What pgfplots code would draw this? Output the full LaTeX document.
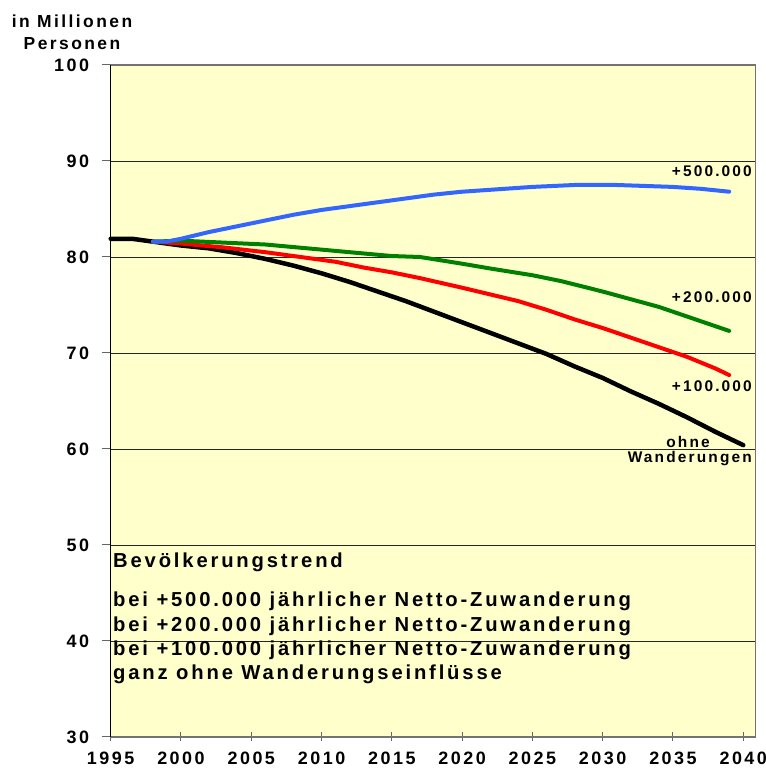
\documentclass[border=0pt]{standalone}
\usepackage{fontspec}
\setmainfont{Liberation Sans}[LetterSpace=14]
\usepackage{pgfplots}
\pgfplotsset{compat=1.18}
\definecolor{bgyellow}{HTML}{FFFFCC}
\definecolor{cblue}{HTML}{3366FF}
\definecolor{cgreen}{HTML}{008000}
\definecolor{cred}{HTML}{FF0000}
\begin{document}
\begin{tikzpicture}[x=1bp,y=1bp]
\useasboundingbox (0,0) rectangle (766,769);
\begin{axis}[
  at={(110.7bp,32bp)}, anchor=south west,
  scale only axis, width=644.5bp, height=672bp,
  xmin=1995, xmax=2040.85, ymin=30, ymax=100,
  axis background/.style={fill=bgyellow},
  axis line style={draw=black!55, line width=1.2bp},
  xtick={1995,2000,...,2040}, ytick={30,40,...,100},
  tick pos=lower,
  xtick align=center, ytick align=outside,
  major tick length=9bp,
  tick style={draw=black!60, line width=1bp},
  ymajorgrids, grid style={draw=black!85, line width=0.8bp},
  /pgf/number format/1000 sep={},
  /pgf/number format/assume math mode=true,
  ticklabel style={font=\fontsize{18}{20}\selectfont\bfseries},
  yticklabel style={xshift=-9bp},
  xticklabel style={yshift=-7bp},
  clip=false,
]
\addplot[black, line width=4.5bp, line join=round, line cap=round] coordinates {
(1995,81.9) (1996.5,81.9) (1998,81.6) (2000,81.2) (2002,80.9) (2004,80.4) (2006,79.8) (2008,79.1) (2010,78.3) (2012,77.4) (2014,76.4) (2016,75.4) (2018,74.3) (2020,73.2) (2022,72.1) (2024,71.0) (2026,69.9) (2028,68.6) (2030,67.4) (2032,66.0) (2034,64.7) (2036,63.3) (2038,61.8) (2040,60.4)};
\addplot[cred, line width=4bp, line join=round, line cap=round] coordinates {
(1998,81.6) (2000,81.4) (2003,81.0) (2006,80.5) (2009,79.9) (2011,79.5) (2013,78.9) (2015,78.4) (2017,77.8) (2020,76.8) (2022,76.1) (2024,75.4) (2026,74.5) (2028,73.5) (2030,72.6) (2032,71.6) (2034,70.6) (2036,69.6) (2038,68.4) (2039,67.7)};
\addplot[cgreen, line width=4bp, line join=round, line cap=round] coordinates {
(1998,81.6) (2000,81.7) (2003,81.5) (2006,81.3) (2009,80.9) (2012,80.5) (2015,80.1) (2017,80.0) (2020,79.3) (2022,78.8) (2025,78.1) (2027,77.5) (2030,76.4) (2032,75.6) (2034,74.8) (2036,73.8) (2039,72.3)};
\addplot[cblue, line width=4bp, line join=round, line cap=round] coordinates {
(1998,81.6) (1999,81.6) (2000,81.9) (2002,82.6) (2004,83.2) (2006,83.8) (2008,84.4) (2010,84.9) (2012,85.3) (2014,85.7) (2016,86.1) (2018,86.5) (2020,86.8) (2022,87.0) (2025,87.3) (2028,87.5) (2031,87.5) (2033,87.4) (2035,87.3) (2037,87.1) (2039,86.8)};
\draw[black, line width=1.2bp] (rel axis cs:0,0) -- (rel axis cs:0,1);
\end{axis}
% y axis title
\node[anchor=base, font=\fontsize{17.5}{20}\selectfont\bfseries, inner sep=0] at (72,741) {in Millionen};
\node[anchor=base, font=\fontsize{17.5}{20}\selectfont\bfseries, inner sep=0] at (72,719) {Personen};
% series labels
\begin{scope}[every node/.style={font=\fontsize{15.5}{18}\selectfont\bfseries, inner sep=0}]
\node[anchor=base east] at (752,592) {+500.000};
\node[anchor=base east] at (752,466) {+200.000};
\node[anchor=base east] at (752,377) {+100.000};
\node[anchor=base] at (688,321) {ohne};
\node[anchor=base east] at (752,306) {Wanderungen};
\end{scope}
% text block
\begin{scope}[every node/.style={font=\fontsize{20.3}{22}\selectfont\bfseries, inner sep=0, anchor=base west}]
\node at (113,201) {Bevölkerungstrend};
\node at (113,162) {bei +500.000 jährlicher Netto-Zuwanderung};
\node at (113,137) {bei +200.000 jährlicher Netto-Zuwanderung};
\node at (113,113) {bei +100.000 jährlicher Netto-Zuwanderung};
\node at (113,89) {ganz ohne Wanderungseinflüsse};
\end{scope}
\end{tikzpicture}
\end{document}
